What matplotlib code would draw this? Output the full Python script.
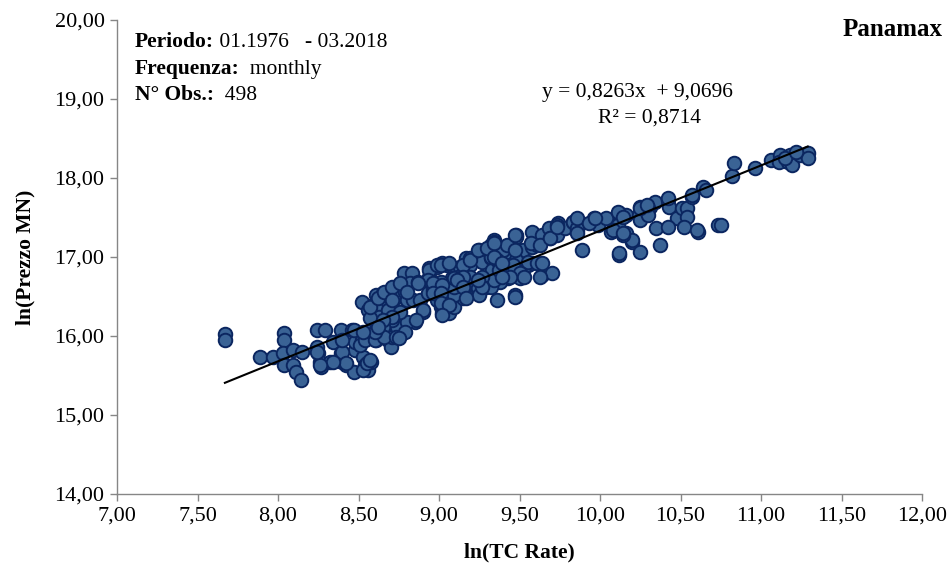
import matplotlib
matplotlib.use("Agg")
import matplotlib.pyplot as plt
import numpy as np
from matplotlib.ticker import FixedLocator, FuncFormatter

plt.rcParams['font.family'] = ['Liberation Serif', 'DejaVu Serif']

# ---- data: (ln TC rate, ln Prezzo MN) ----
points_left = [
    (7.67, 16.03), (7.67, 15.95), (7.89, 15.73), (7.97, 15.73), (8.04, 16.04), (8.04, 15.95),
    (8.03, 15.78), (8.09, 15.82), (8.15, 15.80), (8.04, 15.63), (8.09, 15.63), (8.11, 15.54),
    (8.14, 15.44), (8.24, 16.08), (8.29, 16.08), (8.34, 15.92), (8.39, 16.08), (8.46, 16.08),
    (8.24, 15.86), (8.25, 15.78), (8.26, 15.67), (8.27, 15.61), (8.32, 15.67), (8.39, 15.78),
    (8.40, 15.67), (8.42, 15.63), (8.47, 15.54), (8.48, 15.82), (8.48, 15.92), (8.52, 15.95),
    (8.53, 15.73), (8.54, 15.63), (8.56, 15.57), (8.53, 15.57), (8.58, 15.67), (8.59, 16.11),
    (8.61, 15.95), (8.65, 16.04), (8.68, 15.95), (8.70, 15.86), (8.71, 15.99), (8.62, 16.24),
    (8.68, 16.16), (8.71, 16.24), (8.74, 16.11), (8.52, 16.43), (8.57, 16.30), (8.61, 16.39),
    (8.68, 16.42), (8.71, 16.35), (8.55, 15.66), (8.57, 15.70), (8.51, 15.89), (8.54, 15.95),
    (8.60, 15.95), (8.61, 16.08), (8.56, 16.33), (8.40, 15.80), (8.42, 15.66), (8.34, 15.67),
    (8.26, 15.63), (8.24, 15.80), (8.40, 15.95),
]
points_mid = [
    (8.59, 16.39), (8.61, 16.52), (8.65, 16.54), (8.71, 16.61), (8.71, 16.46), (8.74, 16.49),
    (8.77, 16.67), (8.78, 16.80), (8.83, 16.80), (8.82, 16.67), (8.87, 16.68), (8.79, 16.56),
    (8.80, 16.46), (8.84, 16.46), (8.88, 16.46), (8.93, 16.54), (8.94, 16.86), (8.99, 16.87),
    (9.02, 16.92), (9.05, 16.90), (9.09, 16.86), (9.13, 16.87), (9.17, 16.99), (9.19, 16.90),
    (9.24, 17.00), (9.30, 16.96), (8.94, 16.75), (8.99, 16.67), (9.03, 16.67), (9.08, 16.73),
    (9.12, 16.75), (9.15, 16.56), (9.20, 16.68), (9.24, 16.58), (9.29, 16.62), (8.99, 16.46),
    (9.01, 16.37), (9.02, 16.29), (9.06, 16.29), (9.09, 16.37), (8.90, 16.30), (8.85, 16.18),
    (8.80, 16.18), (8.71, 16.20), (8.65, 16.11), (8.66, 15.99), (8.60, 16.05), (8.73, 15.99),
    (8.79, 16.05), (8.75, 15.97), (8.61, 16.35), (8.63, 16.24), (8.68, 16.33), (8.57, 16.23),
    (8.94, 16.84), (8.99, 16.90), (9.15, 16.90), (9.19, 16.99), (9.25, 17.09), (9.32, 17.13),
    (9.34, 17.22), (9.27, 16.94), (9.32, 16.99), (9.33, 16.84), (9.38, 16.90), (9.42, 17.06),
    (9.47, 17.11), (9.48, 17.28), (9.52, 17.09), (9.58, 17.32), (9.58, 17.13), (9.61, 17.15),
    (9.64, 17.28), (9.68, 17.37), (9.69, 17.24), (9.73, 17.28), (9.74, 17.43), (9.78, 17.37),
    (9.83, 17.44), (9.86, 17.34), (9.44, 16.90), (9.50, 16.84), (9.55, 16.90), (9.58, 16.92),
    (9.64, 16.77), (9.70, 16.80), (9.50, 16.73), (9.43, 16.73), (9.38, 16.68), (9.36, 16.46),
    (9.47, 16.52), (9.19, 16.75), (9.13, 16.68), (9.09, 16.65), (9.01, 16.68), (8.93, 16.71),
    (8.96, 16.58), (9.05, 16.54), (9.15, 16.58), (9.24, 16.61), (9.32, 16.62), (9.25, 16.52),
    (9.15, 16.48), (9.09, 16.52), (9.40, 16.80),
    (9.32, 17.15), (9.34, 17.19), (9.73, 17.41), (9.83, 17.44), (9.86, 17.37), (9.48, 16.96),
    (9.55, 16.94), (9.61, 16.92), (9.48, 17.25), (9.57, 17.18), (9.63, 17.15), (9.69, 17.24),
    (9.40, 17.09), (9.42, 17.15), (9.46, 16.90), (9.50, 16.80), (9.63, 16.75), (9.53, 16.75),
    (9.44, 16.75), (9.34, 16.71), (9.27, 16.75), (9.19, 16.96), (9.32, 17.00), (9.36, 16.96),
    (9.37, 16.84), (9.39, 16.75), (9.15, 16.75), (9.09, 16.62),
    (8.57, 16.37), (8.62, 16.48), (8.66, 16.56), (8.71, 16.62), (8.71, 16.46), (8.76, 16.67),
    (8.80, 16.56), (8.87, 16.67), (8.90, 16.33), (8.76, 16.30), (8.71, 16.24), (8.65, 16.20),
    (8.62, 16.11), (8.86, 16.20), (8.47, 16.08), (8.53, 16.05), (9.01, 16.90), (9.06, 16.92),
    (9.09, 16.73), (8.96, 16.67), (9.02, 16.65), (8.96, 16.54), (9.01, 16.54), (9.01, 16.42),
    (9.06, 16.39), (9.02, 16.27), (9.11, 16.71), (9.15, 16.62), (9.24, 17.09), (9.30, 17.11),
    (9.34, 17.18), (9.34, 17.00), (9.39, 16.92), (9.47, 17.28), (9.47, 17.09), (9.47, 16.49),
    (9.27, 16.62), (9.17, 16.48), (9.24, 16.71),
]
points_right = [
    (9.73, 17.38), (9.86, 17.49), (9.86, 17.30), (9.96, 17.49), (9.99, 17.40), (10.04, 17.49),
    (10.07, 17.32), (10.12, 17.56), (10.11, 17.40), (10.16, 17.53), (10.16, 17.30), (10.24, 17.53),
    (10.25, 17.63), (10.31, 17.63), (10.34, 17.70), (10.42, 17.72), (10.43, 17.63), (10.48, 17.49),
    (10.51, 17.62), (10.54, 17.62), (10.54, 17.51), (10.35, 17.37), (10.42, 17.38), (10.52, 17.38),
    (10.61, 17.32), (10.73, 17.41), (10.57, 17.76), (9.89, 17.09), (10.12, 17.03), (10.20, 17.19),
    (10.25, 17.06), (10.37, 17.15), (9.64, 16.92),
    (10.20, 17.22), (10.14, 17.28), (10.12, 17.05), (10.25, 17.47), (10.30, 17.62), (10.30, 17.53),
    (10.42, 17.75), (10.57, 17.78), (10.60, 17.34), (10.64, 17.89), (10.66, 17.85), (10.75, 17.41),
    (10.82, 18.03), (10.83, 18.19), (10.96, 18.13), (11.06, 18.23), (11.12, 18.29), (11.11, 18.20),
    (11.18, 18.29), (11.17, 18.20), (11.19, 18.16), (11.24, 18.29), (11.29, 18.32), (11.29, 18.25),
    (11.15, 18.25), (11.22, 18.33),
    (9.93, 17.43), (9.97, 17.49), (10.11, 17.57), (10.14, 17.51), (10.25, 17.62), (10.29, 17.66),
    (10.08, 17.34), (10.14, 17.30),
]

# regression shown on the chart
slope = 0.8263
intercept = 9.0696
eq_text = "y = 0,8263x  + 9,0696"
r2_text = "R² = 0,8714"

x_ticks = [7.0, 7.5, 8.0, 8.5, 9.0, 9.5, 10.0, 10.5, 11.0, 11.5, 12.0]
y_ticks = [14.0, 15.0, 16.0, 17.0, 18.0, 19.0, 20.0]

info_labels = ["Periodo:", "Frequenza:", "N° Obs.:"]
info_values = [" 01.1976   - 03.2018", "  monthly", "  498"]

pts = np.array(points_left + points_mid + points_right)
xs, ys = pts[:, 0], pts[:, 1]

fig = plt.figure(figsize=(9.53, 5.66), dpi=100)
ax = fig.add_axes([0.1228, 0.1272, 0.8447, 0.8375])

ax.scatter(xs, ys, s=95, facecolor='#3A6395', edgecolor='#0B2660', linewidth=1.4, zorder=3)

xl = np.array([xs.min(), xs.max()])
ax.plot(xl, slope * xl + intercept, color='black', linewidth=1.5, zorder=4)

ax.set_xlim(7, 12)
ax.set_ylim(14, 20)
ax.xaxis.set_major_locator(FixedLocator(x_ticks))
ax.yaxis.set_major_locator(FixedLocator(y_ticks))
fmt = FuncFormatter(lambda v, p: f"{v:.2f}".replace('.', ','))
ax.xaxis.set_major_formatter(fmt)
ax.yaxis.set_major_formatter(fmt)

for s in ['top', 'right']:
    ax.spines[s].set_visible(False)
for s in ['left', 'bottom']:
    ax.spines[s].set_color('#868686')
    ax.spines[s].set_linewidth(1.0)
ax.tick_params(axis='both', direction='out', length=5, width=1.0, color='#868686',
               labelsize=16, labelcolor='black', pad=4)

ax.set_xlabel("ln(TC Rate)", fontsize=15.5, fontweight='bold', labelpad=12)
ax.set_ylabel("ln(Prezzo MN)", fontsize=15.5, fontweight='bold', labelpad=14)

# info box
tx = 0.022
ys_info = [0.953, 0.897, 0.842]
for lab, val, yy in zip(info_labels, info_values, ys_info):
    t = ax.text(tx, yy, lab, transform=ax.transAxes, fontsize=15.5, fontweight='bold', va='center')
    ax.annotate(val, xy=(1, 0), xycoords=t, fontsize=15.5, va='bottom', ha='left')

ax.text(1.026, 0.979, "Panamax", transform=ax.transAxes, fontsize=18, fontweight='bold',
        ha='right', va='center', clip_on=False)

ax.text(0.646, 0.846, eq_text, transform=ax.transAxes, fontsize=15.5, ha='center', va='center')
ax.text(0.662, 0.793, r2_text, transform=ax.transAxes, fontsize=15.5, ha='center', va='center')

fig.savefig("out.png", dpi=100)
